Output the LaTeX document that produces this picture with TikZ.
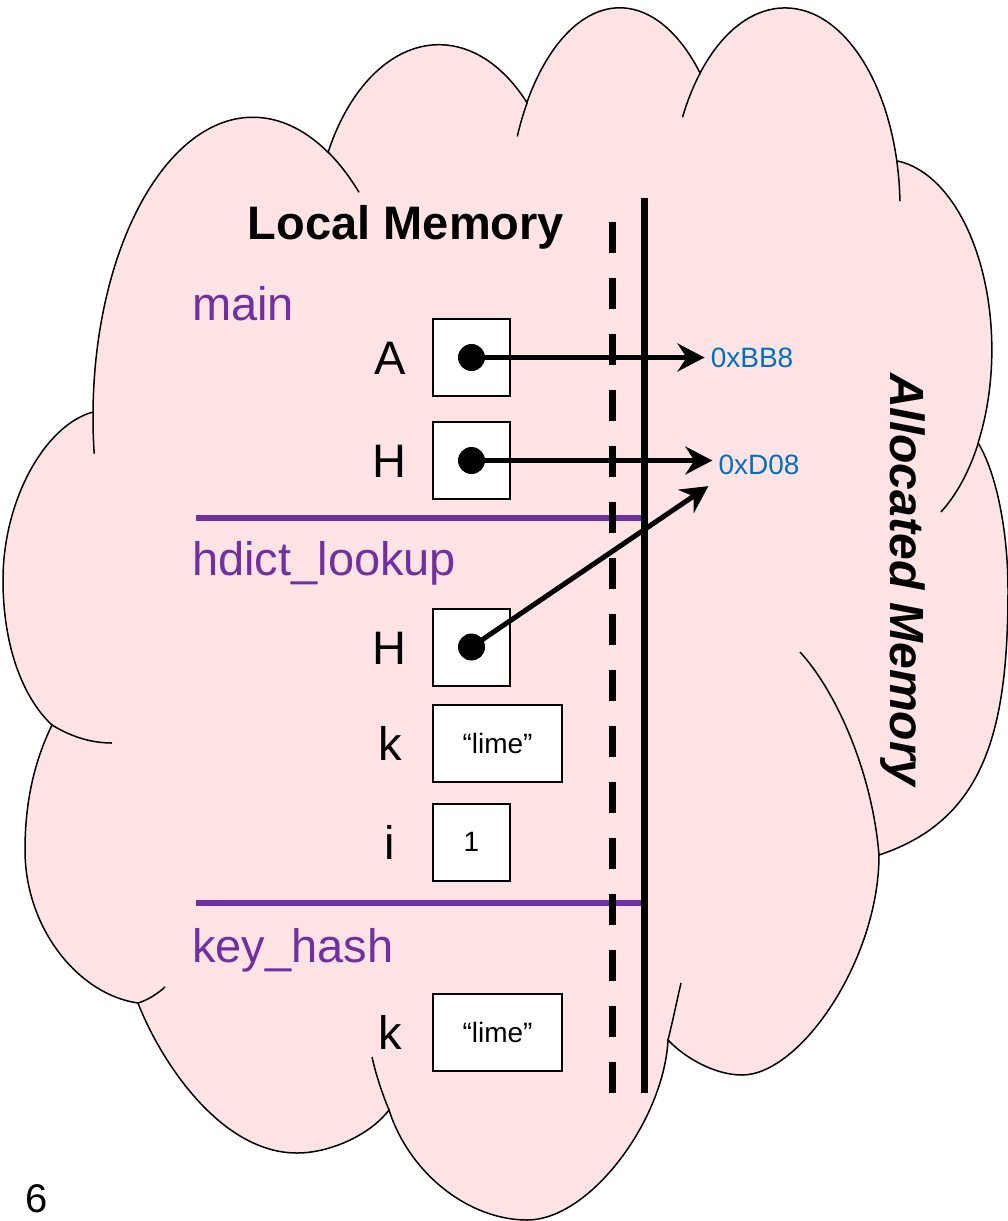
\documentclass[tikz,border=0pt]{standalone}
\usepackage{fontspec}
\setmainfont{Liberation Sans}
\usetikzlibrary{arrows.meta, positioning}

\definecolor{cloudpink}{RGB}{255,227,229}
\definecolor{framepurple}{RGB}{112,48,160}
\definecolor{addrblue}{RGB}{0,112,192}

\begin{document}
\begin{tikzpicture}[
    x=1pt, y=-1pt,
    cell/.style={
        rectangle,
        draw,
        fill=white,
        line width=2pt,
        minimum width=77pt,
        minimum height=77pt,
        inner sep=0pt,
        font=\fontsize{28}{32}\selectfont
    },
    widecell/.style={cell, minimum width=129pt},
    varname/.style={
        minimum width=50pt,
        inner sep=0pt,
        text height=34pt,
        text depth=0pt,
        font=\fontsize{47}{56}\selectfont
    },
    framename/.style={
        anchor=base west,
        inner sep=0pt,
        text=framepurple,
        font=\fontsize{47}{56}\selectfont
    },
    addr/.style={
        inner sep=6pt,
        text=addrblue,
        font=\fontsize{28}{32}\selectfont
    },
    ptrdot/.style={circle, fill=black, inner sep=0pt, minimum size=27pt},
    ptr/.style={-{Stealth[length=27pt, width=28pt, inset=9pt]}, line width=5pt},
    divider/.style={draw=framepurple, line width=5.5pt},
    wall/.style={line width=7pt},
    puff/.style={line width=1.5pt}
]

\useasboundingbox (0,0) rectangle (1007,1221);

\path[puff, draw, fill=cloudpink] (93,412)
    arc[start angle=181, end angle=298, x radius=160, y radius=300]
    arc[start angle=207.5, end angle=314.7, x radius=125, y radius=200]
    arc[start angle=214.7, end angle=315.3, x radius=113, y radius=220]
    arc[start angle=222.4, end angle=346.4, x radius=115, y radius=200]
    arc[start angle=276.4, end angle=389.4, x radius=107, y radius=190]
    .. controls (996,472) and (1008,530) .. (1008,590)
    .. controls (1008,730) and (985,820) .. (879,855)
    .. controls (879,960) and (800,1075) .. (742,1075)
    .. controls (715,1075) and (685,1058) .. (668,1040)
    .. controls (664,1120) and (590,1220) .. (527,1220)
    .. controls (470,1220) and (410,1175) .. (389,1110)
    .. controls (370,1135) and (330,1153) .. (297,1153)
    .. controls (220,1153) and (160,1060) .. (138,1003)
    .. controls (80,995) and (25,930) .. (25,850)
    .. controls (25,800) and (35,760) .. (52,725)
    .. controls (25,700) and (3,650) .. (3,580)
    .. controls (3,500) and (45,425) .. (93,412) -- cycle;

\draw[puff] (253,417) ++(181:160 and 300) arc[start angle=181, end angle=173, x radius=160, y radius=300];
\draw[puff] (253,417) ++(298:160 and 300) arc[start angle=298, end angle=311.5, x radius=160, y radius=300];
\draw[puff] (620,228) ++(204.6:113 and 220) arc[start angle=204.6, end angle=214.7, x radius=113, y radius=220];
\draw[puff] (785,208) ++(207:115 and 200) arc[start angle=207, end angle=222.4, x radius=115, y radius=200];
\draw[puff] (785,208) ++(346.4:115 and 200) arc[start angle=346.4, end angle=358, x radius=115, y radius=200];
\draw[puff] (885,350) ++(29.4:107 and 190) arc[start angle=29.4, end angle=58.5, x radius=107, y radius=190];
\draw[puff] (800,652) .. controls (835,690) and (872,770) .. (879,855);
\draw[puff] (668,1040) .. controls (673,1020) and (677,1000) .. (681,983);
\draw[puff] (389,1110) .. controls (382,1093) and (376,1075) .. (372,1057);
\draw[puff] (138,1003) .. controls (148,1000) and (157,994) .. (165,987);
\draw[puff] (52,725) .. controls (70,736) and (90,743) .. (112,743);

\node[font=\bfseries\fontsize{47}{56}\selectfont, anchor=base, inner sep=0pt] (local) at (406,239) {Local Memory};
\node[rotate=-90, anchor=base, inner sep=0pt, font=\bfseries\itshape\fontsize{48}{56}\selectfont] (alloc) at (890,580) {Allocated Memory};

\coordinate (dtop) at (612,222);
\coordinate (dbot) at (612,1093);
\coordinate (stop) at (644,198);
\coordinate (sbot) at (644,1093);
\coordinate (div1) at (196,518);
\coordinate (div2) at (196,903);

\draw[divider] (div1) -- (div1 -| stop);
\draw[divider] (div2) -- (div2 -| stop);
\draw[wall, dash pattern=on 31pt off 25pt] (dtop) -- (dbot);
\draw[wall] (stop) -- (sbot);

\node[framename] (fmain) at (192,320) {main};
\node[cell] (bA) at (471.5,357.5) {};
\node[cell, below=24pt of bA] (bH) {};
\node[varname, left=17pt of bA] (vA) {A};
\node[varname, left=17pt of bH] (vH) {H};

\node[framename] (flookup) at (192,575) {hdict\_lookup};
\node[cell] (bH2) at (471.5,647) {};
\node[widecell, below=17pt of bH2.south west, anchor=north west] (bk) {“lime”};
\node[cell, below=20pt of bk.south west, anchor=north west] (bi) {1};
\node[varname, left=17pt of bH2] (vH2) {H};
\node[varname, left=17pt of bk] (vk) {k};
\node[varname, left=17pt of bi] (vi) {i};

\node[framename] (fhash) at (192,962) {key\_hash};
\node[widecell] (bk2) at (497.5,1032) {“lime”};
\node[varname, left=17pt of bk2] (vk2) {k};

\node[addr] (aBB8) at (752,358) {0xBB8};
\node[addr] (aD08) at (759,465) {0xD08};

\draw[ptr] (bA.center) -- (bA.center -| aBB8.west);
\draw[ptr] (bH.center) -- (bH.center -| aD08.west);
\draw[ptr] (bH2.center) -- ([shift={(-4,5)}]aD08.south west);

\node[ptrdot] (pA) at (bA.center) {};
\node[ptrdot] (pH) at (bH.center) {};
\node[ptrdot] (pH2) at (bH2.center) {};

\node[anchor=base west, inner sep=0pt, font=\fontsize{40}{48}\selectfont] (pnum) at (25,1212) {6};

\end{tikzpicture}
\end{document}
